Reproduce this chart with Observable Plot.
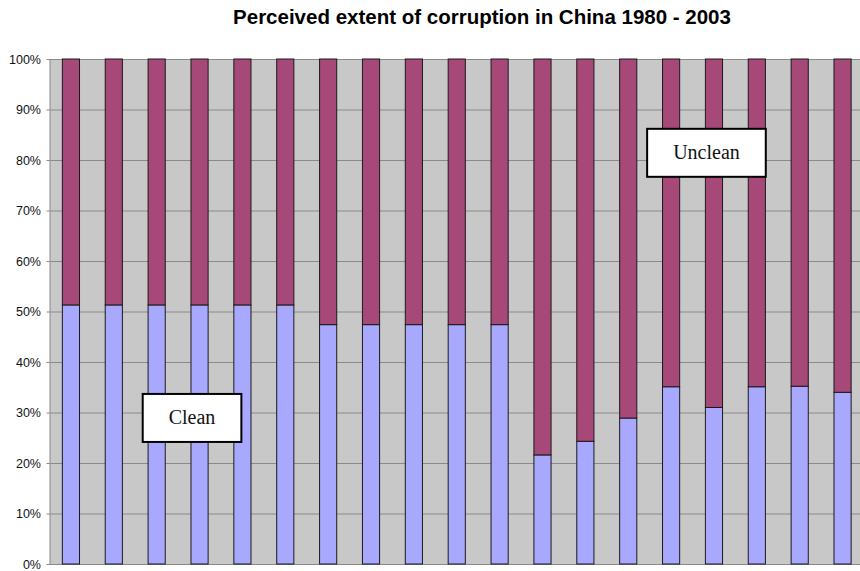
<!DOCTYPE html>
<html>
<head>
<meta charset="utf-8">
<script src="https://cdn.jsdelivr.net/npm/d3@7"></script>
<script src="https://cdn.jsdelivr.net/npm/@observablehq/plot@0.6"></script>
<style>
  html, body { margin: 0; padding: 0; background: #fff; overflow: hidden; }
  #title { box-sizing: border-box; width: 860px; height: 40px; padding-top: 5px; padding-left: 104px;
    text-align: center; font: bold 20.5px "Liberation Sans", Arial, sans-serif; color: #000; white-space: nowrap; }
  #chart { width: 860px; overflow: hidden; }
  #chart svg { display: block; max-width: none !important; width: 865px !important; height: 531px !important; }
</style>
</head>
<body>
<div id="title">Perceived extent of corruption in China 1980 - 2003</div>
<div id="chart"></div>
<script>
// Bars (19 surveys, unlabeled in the original)
const bars = ["1","2","3","4","5","6","7","8","9","10","11","12","13","14","15","16","17","18","19"];
const series = ["Clean", "Unclean"];
const cleanValues   = [51.3, 51.3, 51.3, 51.3, 51.3, 51.3, 47.4, 47.4, 47.4, 47.4, 47.4, 21.6, 24.3, 28.9, 35.1, 31.0, 35.1, 35.2, 34.0];
const uncleanValues = [48.7, 48.7, 48.7, 48.7, 48.7, 48.7, 52.6, 52.6, 52.6, 52.6, 52.6, 78.4, 75.7, 71.1, 64.9, 69.0, 64.9, 64.8, 66.0];
const yTicks = [0, 10, 20, 30, 40, 50, 60, 70, 80, 90, 100];
const tickLabels = ["0%", "10%", "20%", "30%", "40%", "50%", "60%", "70%", "80%", "90%", "100%"];
const colors = ["#a8a8ff", "#a64878"];
// Annotation labels
const annoLabels = ["Clean", "Unclean"];
const annoBars = ["4", "16"];
const annoValues = [29.1, 81.6];

const data = [];
bars.forEach((b, i) => {
  data.push({bar: b, series: "Clean", value: cleanValues[i]});
  data.push({bar: b, series: "Unclean", value: uncleanValues[i]});
});
const annos = annoLabels.map((l, i) => ({label: l, bar: annoBars[i], value: annoValues[i]}));

const chart = Plot.plot({
  width: 865,
  height: 531,
  marginLeft: 49.5,
  marginRight: 1,
  marginTop: 19,
  marginBottom: 7,
  style: {fontFamily: "Liberation Sans, Arial, sans-serif", fontSize: "12.5px", color: "#111", background: "#fff"},
  x: {domain: bars, paddingInner: 0.6, paddingOuter: 0.3, round: false, axis: null},
  y: {domain: [0, 100], axis: null},
  color: {domain: series, range: colors},
  marks: [
    Plot.frame({fill: "#c8c8c8", stroke: "#8a8a8a"}),
    Plot.ruleY(yTicks, {stroke: "#8a8a8a", strokeWidth: 1}),
    Plot.axisY(yTicks, {tickSize: 3, tickPadding: 6, stroke: "#8a8a8a", fontSize: 12.5,
      tickFormat: (d) => tickLabels[yTicks.indexOf(d)], label: null, fill: "#111"}),
    Plot.barY(data, {x: "bar", y: "value", fill: "series", stroke: "#1a1a1a", strokeWidth: 1}),
    Plot.text(annos, {x: "bar", y: "value", text: "label", dx: -8, fontFamily: "Liberation Serif, serif", fontSize: 20, fill: "#111", className: "anno"})
  ]
});
document.getElementById("chart").append(chart);

// Draw white framed boxes behind annotation labels
chart.querySelectorAll(".anno text").forEach(t => {
  const bb = t.getBBox();
  const w = bb.width + 52, h = 48;
  const cx = bb.x + bb.width / 2, cy = bb.y + bb.height / 2 + 1;
  const r = document.createElementNS("http://www.w3.org/2000/svg", "rect");
  r.setAttribute("x", cx - w / 2);
  r.setAttribute("y", cy - h / 2);
  r.setAttribute("width", w);
  r.setAttribute("height", h);
  r.setAttribute("fill", "#fff");
  r.setAttribute("stroke", "#000");
  r.setAttribute("stroke-width", 2);
  const tf = t.getAttribute("transform");
  if (tf) r.setAttribute("transform", tf);
  t.parentNode.insertBefore(r, t);
});
</script>
</body>
</html>
